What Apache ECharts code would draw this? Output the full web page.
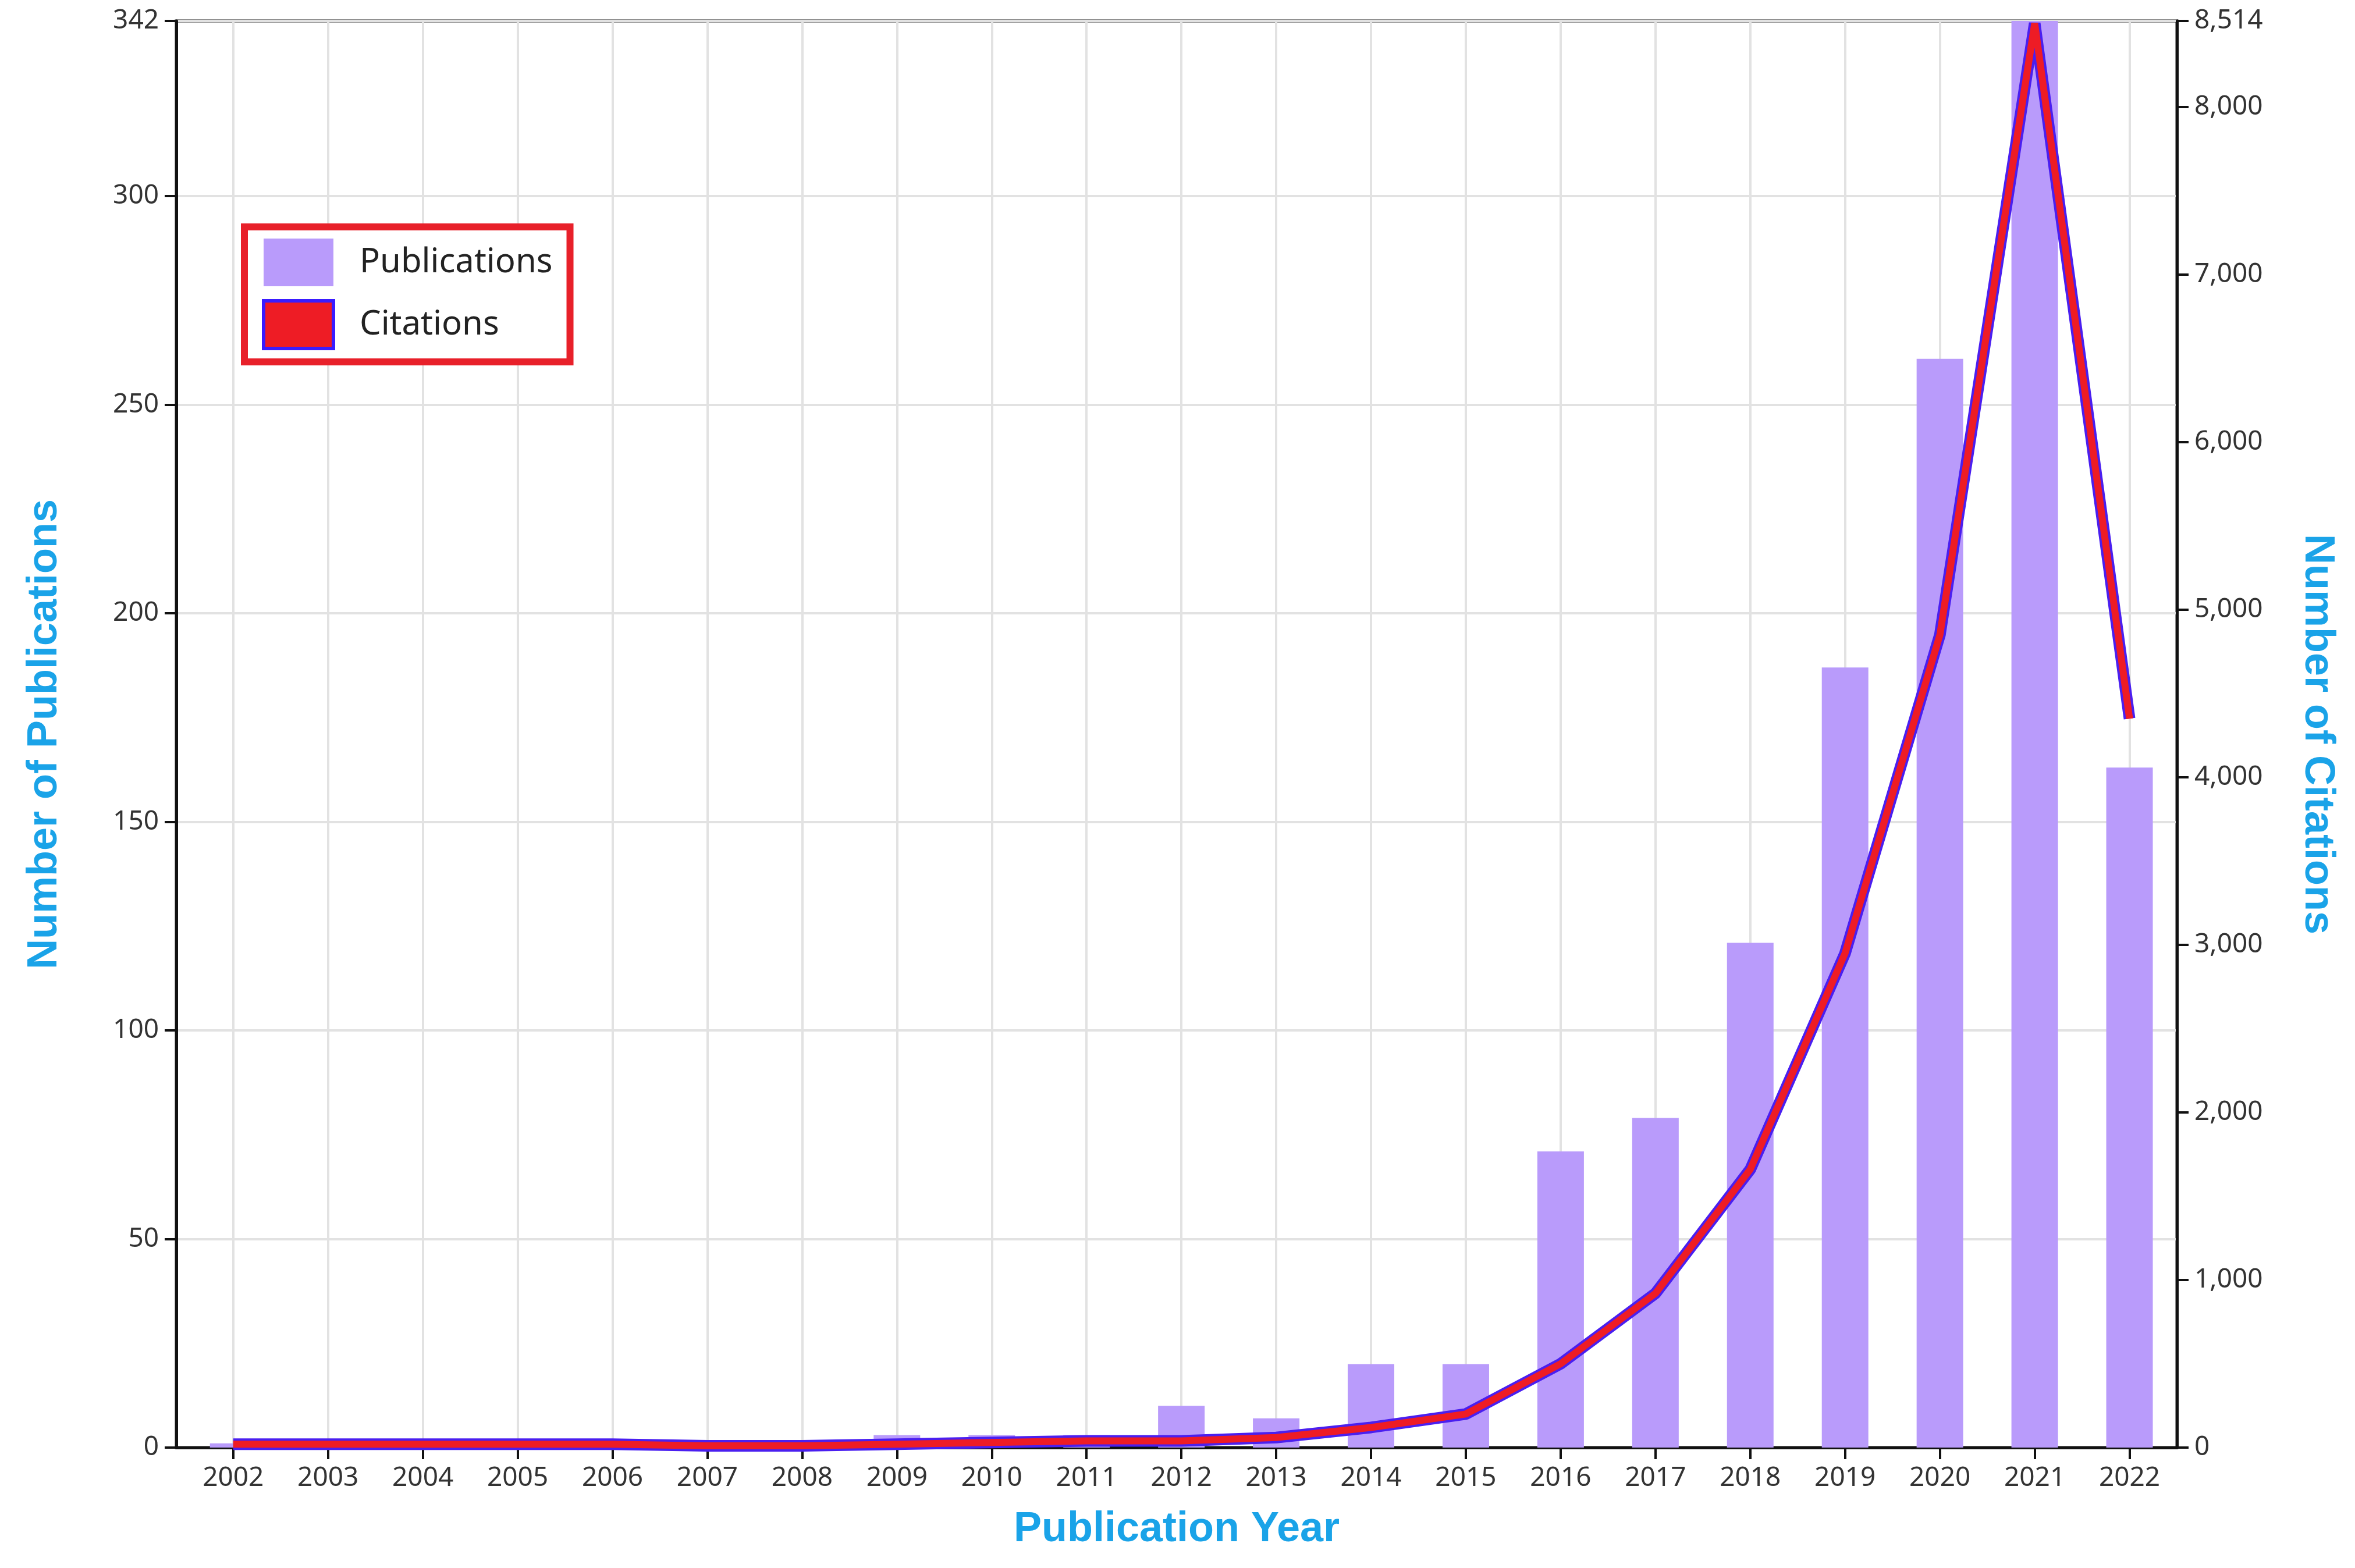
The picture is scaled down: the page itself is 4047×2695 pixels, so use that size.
<!DOCTYPE html>
<html>
<head>
<meta charset="utf-8">
<script src="https://cdn.jsdelivr.net/npm/echarts@6/dist/echarts.min.js"></script>
<style>html,body{margin:0;background:#fff}#chart{width:4047px;height:2695px}</style>
</head>
<body>
<div id="chart"></div>
<script>
// data
var years = [2002, 2003, 2004, 2005, 2006, 2007, 2008, 2009, 2010, 2011, 2012,
	2013, 2014, 2015, 2016, 2017, 2018, 2019, 2020, 2021, 2022];
var publications = [1, 1, 1, 1, 1, 0, 0, 3, 3, 3, 10, 7, 20, 20, 71, 79, 121, 187, 261, 345, 163];
var citations = [20, 20, 20, 20, 20, 10, 10, 20, 30, 40, 40, 60, 120, 200, 500, 920, 1660, 2950, 4850, 8500, 4350];

var pubData = years.map(function (y, i) { return [y, publications[i]]; });
var citData = years.map(function (y, i) { return [y, citations[i]]; });

var chart = echarts.init(document.getElementById('chart'));
var labelFont = { fontSize: 46, color: '#333', fontFamily: 'Noto Sans' };
var titleFont = { fontSize: 72, color: '#1aa3e8', fontWeight: 'bold', fontFamily: 'Liberation Sans' };

chart.setOption({
	animation: false,
	grid: {
		left: 303, right: 306, top: 36, bottom: 207,
		show: true, borderColor: '#222', borderWidth: 5
	},
	legend: {
		left: 420, top: 390,
		orient: 'vertical',
		data: ['Publications', 'Citations'],
		itemWidth: 120, itemHeight: 82, itemGap: 22,
		padding: [20, 30, 20, 30],
		borderColor: '#e8202a', borderWidth: 12,
		shadowColor: '#2bb9e0', shadowBlur: 0, shadowOffsetX: 0, shadowOffsetY: 0,
		backgroundColor: '#fff',
		textStyle: { fontSize: 58, color: '#222', fontFamily: 'Noto Sans', padding: [0, 0, 0, 40] }
	},
	xAxis: {
		type: 'value',
		min: 2001.4, max: 2022.5,
		name: 'Publication Year', nameLocation: 'middle', nameGap: 105,
		nameTextStyle: titleFont,
		axisLine: { lineStyle: { color: '#111', width: 5 } },
		axisTick: { customValues: years, length: 20, lineStyle: { color: '#111', width: 4 } },
		axisLabel: Object.assign({ customValues: years, margin: 30, formatter: function (v) { return String(v); } }, labelFont),
		splitLine: { show: true, lineStyle: { color: '#e2e2e2', width: 4 } }
	},
	yAxis: [{
		type: 'value', min: 0, max: 342, interval: 50,
		name: 'Number of Publications', nameLocation: 'middle', nameGap: 190, nameRotate: 90,
		nameTextStyle: titleFont,
		axisLine: { show: true, lineStyle: { color: '#111', width: 5 } },
		axisTick: { show: true, length: 20, lineStyle: { color: '#111', width: 4 } },
		axisLabel: Object.assign({ margin: 30 }, labelFont),
		splitLine: { lineStyle: { color: '#e2e2e2', width: 4 } }
	}, {
		type: 'value', min: 0, max: 8514, interval: 1000,
		name: 'Number of Citations', nameLocation: 'middle', nameGap: 205, nameRotate: -90,
		nameTextStyle: titleFont,
		axisLine: { show: true, lineStyle: { color: '#111', width: 5 } },
		axisTick: { show: true, length: 20, lineStyle: { color: '#111', width: 4 } },
		axisLabel: Object.assign({ margin: 30 }, labelFont),
		splitLine: { show: false }
	}],
	series: [{
		name: 'Publications',
		type: 'bar',
		data: pubData,
		barWidth: 80,
		itemStyle: { color: '#b99bfb' }
	}, {
		name: 'CitationsEdge',
		type: 'line',
		yAxisIndex: 1,
		data: citData,
		symbol: 'none',
		lineStyle: { color: '#4a1ff0', width: 20 }
	}, {
		name: 'Citations',
		type: 'line',
		yAxisIndex: 1,
		data: citData,
		symbol: 'none',
		itemStyle: { color: '#ee1c25', borderColor: '#3a1cff', borderWidth: 5 },
		lineStyle: { color: '#ee1c25', width: 12 }
	}]
});
// legend icon for citations: filled rect with blue border
chart.setOption({
	legend: {
		data: [
			{ name: 'Publications', icon: 'rect', itemStyle: { color: '#b99bfb' } },
			{ name: 'Citations', icon: 'rect', itemStyle: { color: '#ee1c25', borderColor: '#3a1cff', borderWidth: 6 } }
		]
	}
});
</script>
</body>
</html>
